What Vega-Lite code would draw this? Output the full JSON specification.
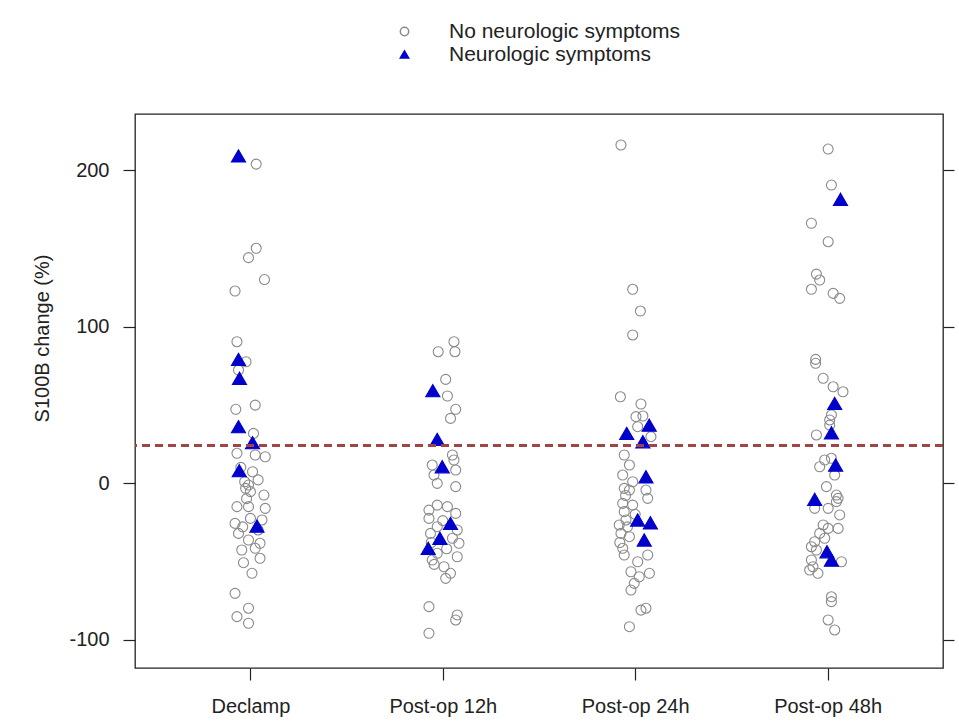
{
  "$schema": "https://vega.github.io/schema/vega-lite/v6.json",
  "width": 808,
  "height": 554,
  "autosize": {"type": "none"},
  "padding": {"left": 135, "top": 114, "right": 16, "bottom": 56},
  "background": "white",
  "config": {
    "view": {"stroke": "#222", "strokeWidth": 1.3},
    "font": "Liberation Sans",
    "axis": {
      "domain": false, "grid": false, "tickColor": "#222", "tickWidth": 1.2, "tickSize": 12,
      "labelColor": "#222", "labelFontSize": 20, "titleColor": "#222", "titleFontSize": 20,
      "titleFontWeight": "normal", "labelFont": "Liberation Sans", "titleFont": "Liberation Sans"
    },
    "legend": {"labelFont": "Liberation Sans"}
  },
  "data": {"values": [
    {"time":"Declamp","pos":1.03,"change":203.8,"group":"No neurologic symptoms"},
    {"time":"Declamp","pos":1.03,"change":150,"group":"No neurologic symptoms"},
    {"time":"Declamp","pos":0.99,"change":144,"group":"No neurologic symptoms"},
    {"time":"Declamp","pos":1.073,"change":130,"group":"No neurologic symptoms"},
    {"time":"Declamp","pos":0.92,"change":122.7,"group":"No neurologic symptoms"},
    {"time":"Declamp","pos":0.93,"change":90.3,"group":"No neurologic symptoms"},
    {"time":"Declamp","pos":0.977,"change":77.5,"group":"No neurologic symptoms"},
    {"time":"Declamp","pos":0.938,"change":72.2,"group":"No neurologic symptoms"},
    {"time":"Declamp","pos":0.924,"change":47.1,"group":"No neurologic symptoms"},
    {"time":"Declamp","pos":1.025,"change":49.8,"group":"No neurologic symptoms"},
    {"time":"Declamp","pos":1.016,"change":31.7,"group":"No neurologic symptoms"},
    {"time":"Declamp","pos":0.93,"change":19,"group":"No neurologic symptoms"},
    {"time":"Declamp","pos":1.025,"change":17.9,"group":"No neurologic symptoms"},
    {"time":"Declamp","pos":1.077,"change":16.8,"group":"No neurologic symptoms"},
    {"time":"Declamp","pos":0.95,"change":10,"group":"No neurologic symptoms"},
    {"time":"Declamp","pos":1.011,"change":7.2,"group":"No neurologic symptoms"},
    {"time":"Declamp","pos":1.04,"change":2,"group":"No neurologic symptoms"},
    {"time":"Declamp","pos":0.97,"change":0.8,"group":"No neurologic symptoms"},
    {"time":"Declamp","pos":0.99,"change":-1.3,"group":"No neurologic symptoms"},
    {"time":"Declamp","pos":0.975,"change":-3.4,"group":"No neurologic symptoms"},
    {"time":"Declamp","pos":1.0,"change":-5.5,"group":"No neurologic symptoms"},
    {"time":"Declamp","pos":1.07,"change":-7.7,"group":"No neurologic symptoms"},
    {"time":"Declamp","pos":0.98,"change":-10,"group":"No neurologic symptoms"},
    {"time":"Declamp","pos":0.93,"change":-15.1,"group":"No neurologic symptoms"},
    {"time":"Declamp","pos":0.99,"change":-15.1,"group":"No neurologic symptoms"},
    {"time":"Declamp","pos":1.077,"change":-16.2,"group":"No neurologic symptoms"},
    {"time":"Declamp","pos":0.92,"change":-25.8,"group":"No neurologic symptoms"},
    {"time":"Declamp","pos":1.0,"change":-22.6,"group":"No neurologic symptoms"},
    {"time":"Declamp","pos":1.06,"change":-23.6,"group":"No neurologic symptoms"},
    {"time":"Declamp","pos":0.96,"change":-28,"group":"No neurologic symptoms"},
    {"time":"Declamp","pos":1.04,"change":-30,"group":"No neurologic symptoms"},
    {"time":"Declamp","pos":0.938,"change":-32.2,"group":"No neurologic symptoms"},
    {"time":"Declamp","pos":0.99,"change":-36.4,"group":"No neurologic symptoms"},
    {"time":"Declamp","pos":1.05,"change":-38.5,"group":"No neurologic symptoms"},
    {"time":"Declamp","pos":0.955,"change":-42.8,"group":"No neurologic symptoms"},
    {"time":"Declamp","pos":1.025,"change":-41.7,"group":"No neurologic symptoms"},
    {"time":"Declamp","pos":1.05,"change":-48.1,"group":"No neurologic symptoms"},
    {"time":"Declamp","pos":0.964,"change":-50.9,"group":"No neurologic symptoms"},
    {"time":"Declamp","pos":1.008,"change":-57.7,"group":"No neurologic symptoms"},
    {"time":"Declamp","pos":0.92,"change":-70.5,"group":"No neurologic symptoms"},
    {"time":"Declamp","pos":0.99,"change":-80,"group":"No neurologic symptoms"},
    {"time":"Declamp","pos":0.93,"change":-85.4,"group":"No neurologic symptoms"},
    {"time":"Declamp","pos":0.99,"change":-89.6,"group":"No neurologic symptoms"},
    {"time":"Post-op 12h","pos":2.058,"change":90.3,"group":"No neurologic symptoms"},
    {"time":"Post-op 12h","pos":1.976,"change":83.9,"group":"No neurologic symptoms"},
    {"time":"Post-op 12h","pos":2.063,"change":83.9,"group":"No neurologic symptoms"},
    {"time":"Post-op 12h","pos":2.015,"change":66.2,"group":"No neurologic symptoms"},
    {"time":"Post-op 12h","pos":2.024,"change":55.6,"group":"No neurologic symptoms"},
    {"time":"Post-op 12h","pos":2.067,"change":47.1,"group":"No neurologic symptoms"},
    {"time":"Post-op 12h","pos":2.04,"change":41.3,"group":"No neurologic symptoms"},
    {"time":"Post-op 12h","pos":2.05,"change":17.9,"group":"No neurologic symptoms"},
    {"time":"Post-op 12h","pos":2.058,"change":14.7,"group":"No neurologic symptoms"},
    {"time":"Post-op 12h","pos":1.945,"change":11.5,"group":"No neurologic symptoms"},
    {"time":"Post-op 12h","pos":2.067,"change":8.3,"group":"No neurologic symptoms"},
    {"time":"Post-op 12h","pos":1.954,"change":5.1,"group":"No neurologic symptoms"},
    {"time":"Post-op 12h","pos":1.971,"change":-0.2,"group":"No neurologic symptoms"},
    {"time":"Post-op 12h","pos":2.067,"change":-2.3,"group":"No neurologic symptoms"},
    {"time":"Post-op 12h","pos":1.928,"change":-17.3,"group":"No neurologic symptoms"},
    {"time":"Post-op 12h","pos":1.971,"change":-14.1,"group":"No neurologic symptoms"},
    {"time":"Post-op 12h","pos":2.024,"change":-15.1,"group":"No neurologic symptoms"},
    {"time":"Post-op 12h","pos":2.067,"change":-19.4,"group":"No neurologic symptoms"},
    {"time":"Post-op 12h","pos":1.928,"change":-22.6,"group":"No neurologic symptoms"},
    {"time":"Post-op 12h","pos":2.0,"change":-24,"group":"No neurologic symptoms"},
    {"time":"Post-op 12h","pos":1.971,"change":-27.9,"group":"No neurologic symptoms"},
    {"time":"Post-op 12h","pos":2.075,"change":-30,"group":"No neurologic symptoms"},
    {"time":"Post-op 12h","pos":1.936,"change":-32.2,"group":"No neurologic symptoms"},
    {"time":"Post-op 12h","pos":2.05,"change":-35.3,"group":"No neurologic symptoms"},
    {"time":"Post-op 12h","pos":1.94,"change":-38,"group":"No neurologic symptoms"},
    {"time":"Post-op 12h","pos":2.084,"change":-38.5,"group":"No neurologic symptoms"},
    {"time":"Post-op 12h","pos":2.02,"change":-42,"group":"No neurologic symptoms"},
    {"time":"Post-op 12h","pos":1.971,"change":-44.9,"group":"No neurologic symptoms"},
    {"time":"Post-op 12h","pos":2.075,"change":-47.1,"group":"No neurologic symptoms"},
    {"time":"Post-op 12h","pos":1.945,"change":-49.2,"group":"No neurologic symptoms"},
    {"time":"Post-op 12h","pos":1.955,"change":-52,"group":"No neurologic symptoms"},
    {"time":"Post-op 12h","pos":2.006,"change":-53.5,"group":"No neurologic symptoms"},
    {"time":"Post-op 12h","pos":2.04,"change":-57.7,"group":"No neurologic symptoms"},
    {"time":"Post-op 12h","pos":2.015,"change":-60.9,"group":"No neurologic symptoms"},
    {"time":"Post-op 12h","pos":1.928,"change":-79,"group":"No neurologic symptoms"},
    {"time":"Post-op 12h","pos":2.075,"change":-84.3,"group":"No neurologic symptoms"},
    {"time":"Post-op 12h","pos":2.067,"change":-87.5,"group":"No neurologic symptoms"},
    {"time":"Post-op 12h","pos":1.928,"change":-96,"group":"No neurologic symptoms"},
    {"time":"Post-op 24h","pos":2.926,"change":216,"group":"No neurologic symptoms"},
    {"time":"Post-op 24h","pos":2.987,"change":123.8,"group":"No neurologic symptoms"},
    {"time":"Post-op 24h","pos":3.027,"change":109.9,"group":"No neurologic symptoms"},
    {"time":"Post-op 24h","pos":2.987,"change":94.6,"group":"No neurologic symptoms"},
    {"time":"Post-op 24h","pos":2.923,"change":55.1,"group":"No neurologic symptoms"},
    {"time":"Post-op 24h","pos":3.03,"change":50.5,"group":"No neurologic symptoms"},
    {"time":"Post-op 24h","pos":3.004,"change":42.4,"group":"No neurologic symptoms"},
    {"time":"Post-op 24h","pos":3.04,"change":42.8,"group":"No neurologic symptoms"},
    {"time":"Post-op 24h","pos":3.013,"change":36,"group":"No neurologic symptoms"},
    {"time":"Post-op 24h","pos":3.082,"change":29.6,"group":"No neurologic symptoms"},
    {"time":"Post-op 24h","pos":2.943,"change":17.9,"group":"No neurologic symptoms"},
    {"time":"Post-op 24h","pos":2.97,"change":11.5,"group":"No neurologic symptoms"},
    {"time":"Post-op 24h","pos":2.935,"change":5.1,"group":"No neurologic symptoms"},
    {"time":"Post-op 24h","pos":2.987,"change":0.8,"group":"No neurologic symptoms"},
    {"time":"Post-op 24h","pos":2.943,"change":-3.4,"group":"No neurologic symptoms"},
    {"time":"Post-op 24h","pos":2.97,"change":-4.5,"group":"No neurologic symptoms"},
    {"time":"Post-op 24h","pos":3.056,"change":-4.5,"group":"No neurologic symptoms"},
    {"time":"Post-op 24h","pos":2.95,"change":-8,"group":"No neurologic symptoms"},
    {"time":"Post-op 24h","pos":3.065,"change":-9.8,"group":"No neurologic symptoms"},
    {"time":"Post-op 24h","pos":2.935,"change":-13,"group":"No neurologic symptoms"},
    {"time":"Post-op 24h","pos":2.987,"change":-14.1,"group":"No neurologic symptoms"},
    {"time":"Post-op 24h","pos":2.943,"change":-18.3,"group":"No neurologic symptoms"},
    {"time":"Post-op 24h","pos":3.0,"change":-20,"group":"No neurologic symptoms"},
    {"time":"Post-op 24h","pos":2.952,"change":-23.6,"group":"No neurologic symptoms"},
    {"time":"Post-op 24h","pos":2.917,"change":-26.8,"group":"No neurologic symptoms"},
    {"time":"Post-op 24h","pos":2.96,"change":-28,"group":"No neurologic symptoms"},
    {"time":"Post-op 24h","pos":2.926,"change":-32.2,"group":"No neurologic symptoms"},
    {"time":"Post-op 24h","pos":2.97,"change":-34.3,"group":"No neurologic symptoms"},
    {"time":"Post-op 24h","pos":2.92,"change":-38,"group":"No neurologic symptoms"},
    {"time":"Post-op 24h","pos":2.935,"change":-41.7,"group":"No neurologic symptoms"},
    {"time":"Post-op 24h","pos":2.943,"change":-46,"group":"No neurologic symptoms"},
    {"time":"Post-op 24h","pos":3.065,"change":-46,"group":"No neurologic symptoms"},
    {"time":"Post-op 24h","pos":3.013,"change":-50.3,"group":"No neurologic symptoms"},
    {"time":"Post-op 24h","pos":2.978,"change":-56.7,"group":"No neurologic symptoms"},
    {"time":"Post-op 24h","pos":3.074,"change":-57.7,"group":"No neurologic symptoms"},
    {"time":"Post-op 24h","pos":3.021,"change":-59.9,"group":"No neurologic symptoms"},
    {"time":"Post-op 24h","pos":2.995,"change":-64.1,"group":"No neurologic symptoms"},
    {"time":"Post-op 24h","pos":2.978,"change":-68.4,"group":"No neurologic symptoms"},
    {"time":"Post-op 24h","pos":3.056,"change":-80,"group":"No neurologic symptoms"},
    {"time":"Post-op 24h","pos":3.03,"change":-81.2,"group":"No neurologic symptoms"},
    {"time":"Post-op 24h","pos":2.97,"change":-91.8,"group":"No neurologic symptoms"},
    {"time":"Post-op 48h","pos":4.003,"change":213.4,"group":"No neurologic symptoms"},
    {"time":"Post-op 48h","pos":4.02,"change":190.4,"group":"No neurologic symptoms"},
    {"time":"Post-op 48h","pos":3.916,"change":166,"group":"No neurologic symptoms"},
    {"time":"Post-op 48h","pos":4.003,"change":154.2,"group":"No neurologic symptoms"},
    {"time":"Post-op 48h","pos":3.942,"change":133.5,"group":"No neurologic symptoms"},
    {"time":"Post-op 48h","pos":3.959,"change":129.7,"group":"No neurologic symptoms"},
    {"time":"Post-op 48h","pos":3.916,"change":123.8,"group":"No neurologic symptoms"},
    {"time":"Post-op 48h","pos":4.029,"change":121.2,"group":"No neurologic symptoms"},
    {"time":"Post-op 48h","pos":4.063,"change":118,"group":"No neurologic symptoms"},
    {"time":"Post-op 48h","pos":3.938,"change":79,"group":"No neurologic symptoms"},
    {"time":"Post-op 48h","pos":3.938,"change":76.5,"group":"No neurologic symptoms"},
    {"time":"Post-op 48h","pos":3.977,"change":66.9,"group":"No neurologic symptoms"},
    {"time":"Post-op 48h","pos":4.029,"change":61.5,"group":"No neurologic symptoms"},
    {"time":"Post-op 48h","pos":4.08,"change":58.3,"group":"No neurologic symptoms"},
    {"time":"Post-op 48h","pos":4.02,"change":43.5,"group":"No neurologic symptoms"},
    {"time":"Post-op 48h","pos":4.011,"change":40.3,"group":"No neurologic symptoms"},
    {"time":"Post-op 48h","pos":4.011,"change":37,"group":"No neurologic symptoms"},
    {"time":"Post-op 48h","pos":3.942,"change":30.7,"group":"No neurologic symptoms"},
    {"time":"Post-op 48h","pos":3.985,"change":14.7,"group":"No neurologic symptoms"},
    {"time":"Post-op 48h","pos":4.02,"change":15.8,"group":"No neurologic symptoms"},
    {"time":"Post-op 48h","pos":3.959,"change":10.4,"group":"No neurologic symptoms"},
    {"time":"Post-op 48h","pos":4.037,"change":5.1,"group":"No neurologic symptoms"},
    {"time":"Post-op 48h","pos":3.994,"change":-2.3,"group":"No neurologic symptoms"},
    {"time":"Post-op 48h","pos":4.046,"change":-7.7,"group":"No neurologic symptoms"},
    {"time":"Post-op 48h","pos":4.055,"change":-9.8,"group":"No neurologic symptoms"},
    {"time":"Post-op 48h","pos":4.046,"change":-11.9,"group":"No neurologic symptoms"},
    {"time":"Post-op 48h","pos":3.933,"change":-16.2,"group":"No neurologic symptoms"},
    {"time":"Post-op 48h","pos":4.003,"change":-16.2,"group":"No neurologic symptoms"},
    {"time":"Post-op 48h","pos":4.063,"change":-20.4,"group":"No neurologic symptoms"},
    {"time":"Post-op 48h","pos":3.977,"change":-26.8,"group":"No neurologic symptoms"},
    {"time":"Post-op 48h","pos":4.003,"change":-29,"group":"No neurologic symptoms"},
    {"time":"Post-op 48h","pos":4.055,"change":-29,"group":"No neurologic symptoms"},
    {"time":"Post-op 48h","pos":3.959,"change":-32.2,"group":"No neurologic symptoms"},
    {"time":"Post-op 48h","pos":3.985,"change":-35.3,"group":"No neurologic symptoms"},
    {"time":"Post-op 48h","pos":3.933,"change":-37.5,"group":"No neurologic symptoms"},
    {"time":"Post-op 48h","pos":3.916,"change":-40.7,"group":"No neurologic symptoms"},
    {"time":"Post-op 48h","pos":3.942,"change":-42.8,"group":"No neurologic symptoms"},
    {"time":"Post-op 48h","pos":3.916,"change":-49.2,"group":"No neurologic symptoms"},
    {"time":"Post-op 48h","pos":4.072,"change":-50.3,"group":"No neurologic symptoms"},
    {"time":"Post-op 48h","pos":3.924,"change":-53.5,"group":"No neurologic symptoms"},
    {"time":"Post-op 48h","pos":3.907,"change":-55.6,"group":"No neurologic symptoms"},
    {"time":"Post-op 48h","pos":3.95,"change":-57.7,"group":"No neurologic symptoms"},
    {"time":"Post-op 48h","pos":4.02,"change":-72.7,"group":"No neurologic symptoms"},
    {"time":"Post-op 48h","pos":4.02,"change":-75.8,"group":"No neurologic symptoms"},
    {"time":"Post-op 48h","pos":4.003,"change":-87.5,"group":"No neurologic symptoms"},
    {"time":"Post-op 48h","pos":4.037,"change":-93.9,"group":"No neurologic symptoms"},
    {"time":"Declamp","pos":0.938,"change":209,"group":"Neurologic symptoms"},
    {"time":"Declamp","pos":0.938,"change":79,"group":"Neurologic symptoms"},
    {"time":"Declamp","pos":0.943,"change":66.9,"group":"Neurologic symptoms"},
    {"time":"Declamp","pos":0.938,"change":36,"group":"Neurologic symptoms"},
    {"time":"Declamp","pos":1.011,"change":25.8,"group":"Neurologic symptoms"},
    {"time":"Declamp","pos":0.942,"change":7.9,"group":"Neurologic symptoms"},
    {"time":"Declamp","pos":1.034,"change":-27.5,"group":"Neurologic symptoms"},
    {"time":"Post-op 12h","pos":1.948,"change":59,"group":"Neurologic symptoms"},
    {"time":"Post-op 12h","pos":1.971,"change":27.9,"group":"Neurologic symptoms"},
    {"time":"Post-op 12h","pos":1.997,"change":10.4,"group":"Neurologic symptoms"},
    {"time":"Post-op 12h","pos":2.04,"change":-25.8,"group":"Neurologic symptoms"},
    {"time":"Post-op 12h","pos":1.985,"change":-35.3,"group":"Neurologic symptoms"},
    {"time":"Post-op 12h","pos":1.924,"change":-41.7,"group":"Neurologic symptoms"},
    {"time":"Post-op 24h","pos":3.073,"change":37,"group":"Neurologic symptoms"},
    {"time":"Post-op 24h","pos":2.956,"change":31.7,"group":"Neurologic symptoms"},
    {"time":"Post-op 24h","pos":3.04,"change":26.4,"group":"Neurologic symptoms"},
    {"time":"Post-op 24h","pos":3.056,"change":4,"group":"Neurologic symptoms"},
    {"time":"Post-op 24h","pos":3.013,"change":-23.6,"group":"Neurologic symptoms"},
    {"time":"Post-op 24h","pos":3.079,"change":-25.4,"group":"Neurologic symptoms"},
    {"time":"Post-op 24h","pos":3.047,"change":-36.4,"group":"Neurologic symptoms"},
    {"time":"Post-op 48h","pos":4.067,"change":181.3,"group":"Neurologic symptoms"},
    {"time":"Post-op 48h","pos":4.037,"change":50.9,"group":"Neurologic symptoms"},
    {"time":"Post-op 48h","pos":4.02,"change":32.1,"group":"Neurologic symptoms"},
    {"time":"Post-op 48h","pos":4.042,"change":11.5,"group":"Neurologic symptoms"},
    {"time":"Post-op 48h","pos":3.933,"change":-10.4,"group":"Neurologic symptoms"},
    {"time":"Post-op 48h","pos":3.997,"change":-43.9,"group":"Neurologic symptoms"},
    {"time":"Post-op 48h","pos":4.02,"change":-49.2,"group":"Neurologic symptoms"}
  ]},
  "layer": [
    {
      "mark": {"type": "point", "filled": true, "opacity": 1, "strokeWidth": 1.1},
      "encoding": {
        "x": {
          "field": "pos", "type": "quantitative",
          "scale": {"domain": [0.4, 4.6], "nice": false, "zero": false},
          "axis": {"orient": "bottom", "values": [1, 2, 3, 4], "title": null, "labelPadding": 16,
                   "labelExpr": "['', 'Declamp', 'Post-op 12h', 'Post-op 24h', 'Post-op 48h'][datum.value]"}
        },
        "y": {
          "field": "change", "type": "quantitative",
          "scale": {"domain": [-118.2, 235.8], "nice": false, "zero": false},
          "axis": {"orient": "left", "values": [-100, 0, 100, 200], "title": "S100B change (%)",
                   "labelPadding": 14, "titlePadding": 16, "titleY": 224, "titleAlign": "center",
                   "labelExpr": "datum.value < 0 ? '-' + abs(datum.value) : '' + datum.value"}
        },
        "shape": {"field": "group", "type": "nominal",
                  "scale": {"domain": ["No neurologic symptoms", "Neurologic symptoms"], "range": ["circle", "triangle-up"]}},
        "fill": {"field": "group", "type": "nominal",
                 "scale": {"domain": ["No neurologic symptoms", "Neurologic symptoms"], "range": ["rgba(255,255,255,0)", "#0000cc"]}},
        "stroke": {"field": "group", "type": "nominal",
                   "scale": {"domain": ["No neurologic symptoms", "Neurologic symptoms"], "range": ["#8a8a8a", "#0000cc"]},
                   "legend": {"orient": "none", "legendX": 259, "legendY": -93, "title": null,
                              "labelFontSize": 21, "labelColor": "#222", "labelOffset": 34,
                              "symbolSize": 70, "rowPadding": 1, "labelLimit": 400}},
        "size": {"condition": {"test": "datum.group === 'Neurologic symptoms'", "value": 200}, "value": 100}
      }
    },
    {
      "mark": {"type": "rule", "strokeDash": [8, 5], "color": "#9e4646", "strokeWidth": 1.4},
      "encoding": {
        "y": {"datum": 24, "type": "quantitative",
              "scale": {"domain": [-118.2, 235.8], "nice": false, "zero": false},
              "axis": {"orient": "right", "values": [-100, 0, 100, 200], "labels": false, "title": null, "tickSize": 11}}
      }
    }
  ],
  "resolve": {"axis": {"y": "independent"}}
}
